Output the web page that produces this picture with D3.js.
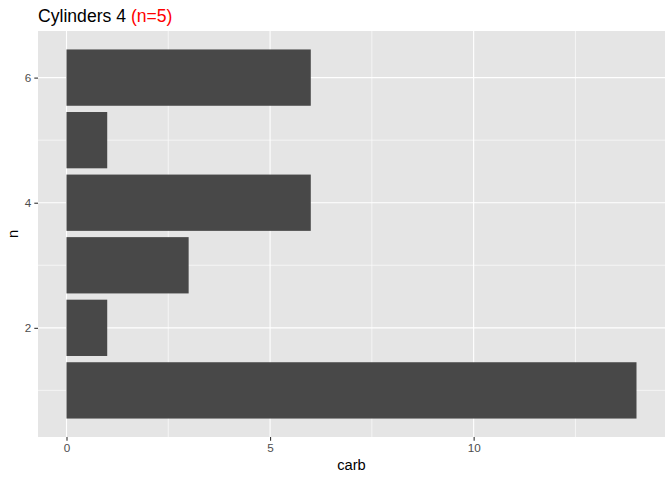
<!DOCTYPE html>
<html><head><meta charset="utf-8">
<script src="https://cdn.jsdelivr.net/npm/d3@7"></script>
<style>body{margin:0;background:#fff}svg{display:block}text{font-family:"Liberation Sans",Arial,sans-serif}</style>
</head><body>
<script>
const nValues = [1, 2, 3, 4, 5, 6];
const carbValues = [14, 1, 3, 6, 1, 6];
const xTicks = [0, 5, 10];
const yTicks = [2, 4, 6];
const titleMain = "Cylinders 4 ";
const titleSub = "(n=5)";

const W = 672, H = 480;
const panel = {left: 38, right: 665, top: 31, bottom: 437};
const svg = d3.select("body").append("svg").attr("width", W).attr("height", H);

const xMax = d3.max(carbValues);
const x = d3.scaleLinear().domain([0 - xMax*0.05, xMax + xMax*0.05]).range([panel.left, panel.right]);
const yLo = 0.55, yHi = 6.45, yPad = (yHi - yLo) * 0.05;
const y = d3.scaleLinear().domain([yLo - yPad, yHi + yPad]).range([panel.bottom, panel.top]);

svg.append("rect").attr("x", panel.left).attr("y", panel.top)
  .attr("width", panel.right - panel.left).attr("height", panel.bottom - panel.top).attr("fill", "#e5e5e5");

// minor grid
const xMinor = [2.5, 7.5, 12.5];
const yMinor = [1, 3, 5];
svg.append("g").selectAll("line").data(xMinor).join("line")
  .attr("x1", d => x(d)).attr("x2", d => x(d)).attr("y1", panel.top).attr("y2", panel.bottom)
  .attr("stroke", "#fafafa").attr("stroke-width", 0.7);
svg.append("g").selectAll("line").data(yMinor).join("line")
  .attr("y1", d => y(d)).attr("y2", d => y(d)).attr("x1", panel.left).attr("x2", panel.right)
  .attr("stroke", "#fafafa").attr("stroke-width", 0.7);
// major grid
svg.append("g").selectAll("line").data(xTicks).join("line")
  .attr("x1", d => x(d)).attr("x2", d => x(d)).attr("y1", panel.top).attr("y2", panel.bottom)
  .attr("stroke", "#fff").attr("stroke-width", 1.1);
svg.append("g").selectAll("line").data(yTicks).join("line")
  .attr("y1", d => y(d)).attr("y2", d => y(d)).attr("x1", panel.left).attr("x2", panel.right)
  .attr("stroke", "#fff").attr("stroke-width", 1.1);

// bars
const data = nValues.map((n, i) => ({n, carb: carbValues[i]}));
svg.append("g").selectAll("rect").data(data).join("rect")
  .attr("x", x(0)).attr("width", d => x(d.carb) - x(0))
  .attr("y", d => y(d.n + 0.45)).attr("height", d => y(d.n - 0.45) - y(d.n + 0.45))
  .attr("fill", "#484848");

// axes
const xAxis = svg.append("g").attr("transform", `translate(0,${panel.bottom})`)
  .call(d3.axisBottom(x).tickValues(xTicks).tickFormat(d3.format("d")).tickSize(3.7).tickPadding(3));
const yAxis = svg.append("g").attr("transform", `translate(${panel.left},0)`)
  .call(d3.axisLeft(y).tickValues(yTicks).tickFormat(d3.format("d")).tickSize(3.7).tickPadding(3));
[xAxis, yAxis].forEach(a => {
  a.select(".domain").remove();
  a.selectAll(".tick line").attr("stroke", "#333").attr("stroke-width", 1.1);
  a.selectAll(".tick text").attr("fill", "#4d4d4d").style("font-size", "11.7px").style("font-family", '"Liberation Sans",Arial,sans-serif');
});

svg.append("text").attr("x", (panel.left + panel.right) / 2).attr("y", 470)
  .attr("text-anchor", "middle").attr("font-size", 14.7).attr("fill", "#000").text("carb");
svg.append("text").attr("transform", `translate(18,${(panel.top + panel.bottom) / 2}) rotate(-90)`)
  .attr("text-anchor", "middle").attr("font-size", 14.7).attr("fill", "#000").text("n");

const t = svg.append("text").attr("x", panel.left).attr("y", 22).attr("font-size", 17.6);
t.append("tspan").attr("fill", "#000").text(titleMain);
t.append("tspan").attr("fill", "#ff0000").text(titleSub);
</script>
</body></html>
